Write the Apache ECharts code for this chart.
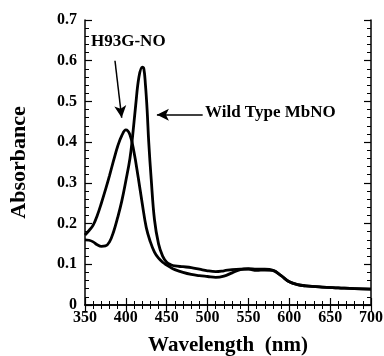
<!DOCTYPE html>
<html>
<head>
<meta charset="utf-8">
<script src="https://cdn.jsdelivr.net/npm/echarts@6/dist/echarts.min.js"></script>
<style>
  html, body { margin: 0; padding: 0; background: #fff; }
  #chart { width: 384px; height: 356px; }
</style>
</head>
<body>
<div id="chart"></div>
<script>
// H93G-NO spectrum
const h93gWavelength = [350, 355, 360, 365, 370, 375, 380, 385, 390, 395, 400, 405, 410, 415, 420, 425, 430, 435, 440, 445, 450, 455, 460, 470, 480, 490, 500, 510, 520, 530, 540, 550, 560, 570, 580, 590, 600, 610, 620, 640, 660, 680, 700];
const h93gAbs = [0.172, 0.183, 0.196, 0.22, 0.25, 0.283, 0.318, 0.355, 0.39, 0.416, 0.43, 0.418, 0.375, 0.315, 0.25, 0.19, 0.155, 0.13, 0.115, 0.105, 0.098, 0.092, 0.087, 0.08, 0.075, 0.072, 0.07, 0.068, 0.071, 0.079, 0.087, 0.089, 0.088, 0.088, 0.085, 0.072, 0.057, 0.05, 0.047, 0.044, 0.042, 0.04, 0.039];

// Wild type MbNO spectrum
const wtWavelength = [350, 355, 360, 365, 370, 375, 380, 385, 390, 395, 400, 405, 408, 412, 416, 420, 422, 424, 426, 428, 431, 435, 440, 445, 450, 455, 460, 470, 480, 490, 500, 510, 520, 530, 540, 550, 560, 570, 580, 590, 600, 610, 620, 640, 660, 680, 700];
const wtAbs = [0.16, 0.159, 0.155, 0.148, 0.144, 0.145, 0.155, 0.18, 0.215, 0.255, 0.305, 0.36, 0.41, 0.49, 0.56, 0.584, 0.58, 0.54, 0.48, 0.4, 0.31, 0.21, 0.15, 0.12, 0.105, 0.099, 0.096, 0.094, 0.092, 0.088, 0.084, 0.082, 0.084, 0.087, 0.088, 0.088, 0.085, 0.086, 0.085, 0.072, 0.057, 0.05, 0.047, 0.044, 0.042, 0.04, 0.039];

const xTicks = [350, 400, 450, 500, 550, 600, 650, 700];
const yTicks = [0, 0.1, 0.2, 0.3, 0.4, 0.5, 0.6, 0.7];

// arrow end points in data space
const h93gArrow = [[386.7, 0.6], [394.9, 0.46]];
const wtArrow = [[494, 0.467], [438, 0.467]];

const font = '"Liberation Serif", "Times New Roman", serif';
const chart = echarts.init(document.getElementById('chart'));

const axisLine = { show: true, lineStyle: { color: '#000', width: 1.5 } };
const axisTick = { show: true, inside: true, length: 7, lineStyle: { color: '#000', width: 1.2 } };
const minorTick = { show: true, splitNumber: 5, length: 4, lineStyle: { color: '#000', width: 1 } };

const option = {
  animation: false,
  backgroundColor: '#fff',
  grid: { left: 85, right: 13, top: 20, bottom: 51, containLabel: false, outerBoundsMode: 'none' },
  xAxis: [
    {
      type: 'value',
      min: xTicks[0],
      max: xTicks[xTicks.length - 1],
      interval: 50,
      name: 'Wavelength  (nm)',
      nameLocation: 'middle',
      nameGap: 30,
      nameTextStyle: { fontFamily: font, fontWeight: 'bold', fontSize: 21, color: '#000' },
      axisLine,
      axisTick,
      minorTick,
      splitLine: { show: false },
      axisLabel: { fontFamily: font, fontWeight: 'bold', fontSize: 16, color: '#000', margin: 5 },
    },
    {
      type: 'value',
      position: 'top',
      min: xTicks[0],
      max: xTicks[xTicks.length - 1],
      interval: 50,
      axisLine,
      axisTick,
      minorTick,
      splitLine: { show: false },
      axisLabel: { show: false },
    },
  ],
  yAxis: [
    {
      type: 'value',
      min: yTicks[0],
      max: yTicks[yTicks.length - 1],
      interval: 0.1,
      name: 'Absorbance',
      nameLocation: 'middle',
      nameGap: 55,
      nameTextStyle: { fontFamily: font, fontWeight: 'bold', fontSize: 22, color: '#000' },
      axisLine,
      axisTick,
      minorTick,
      splitLine: { show: false },
      axisLabel: {
        fontFamily: font, fontWeight: 'bold', fontSize: 16, color: '#000', margin: 8,
        formatter: (v) => (v === 0 ? '0' : v.toFixed(1)),
      },
    },
    {
      type: 'value',
      position: 'right',
      min: yTicks[0],
      max: yTicks[yTicks.length - 1],
      interval: 0.1,
      axisLine,
      axisTick,
      minorTick,
      splitLine: { show: false },
      axisLabel: { show: false },
    },
  ],
  series: [
    {
      name: 'H93G-NO',
      type: 'line',
      smooth: 0.4,
      showSymbol: false,
      lineStyle: { color: '#000', width: 2.8 },
      data: h93gWavelength.map((w, i) => [w, h93gAbs[i]]),
      markLine: {
        silent: true,
        symbol: ['none', 'arrow'],
        symbolSize: [9, 12],
        label: { show: false },
        lineStyle: { color: '#000', width: 1.5, type: 'solid' },
        data: [
          [{ coord: h93gArrow[0] }, { coord: h93gArrow[1] }],
          [{ coord: wtArrow[0] }, { coord: wtArrow[1] }],
        ],
      },
    },
    {
      name: 'Wild Type MbNO',
      type: 'line',
      smooth: 0.4,
      showSymbol: false,
      lineStyle: { color: '#000', width: 2.8 },
      data: wtWavelength.map((w, i) => [w, wtAbs[i]]),
    },
  ],
  graphic: [
    {
      type: 'text',
      left: 91,
      top: 33,
      style: { text: 'H93G-NO', fontFamily: font, fontWeight: 'bold', fontSize: 17, fill: '#000' },
    },
    {
      type: 'text',
      left: 205,
      top: 104,
      style: { text: 'Wild Type MbNO', fontFamily: font, fontWeight: 'bold', fontSize: 17, fill: '#000' },
    },
  ],
};

chart.setOption(option);
</script>
</body>
</html>
